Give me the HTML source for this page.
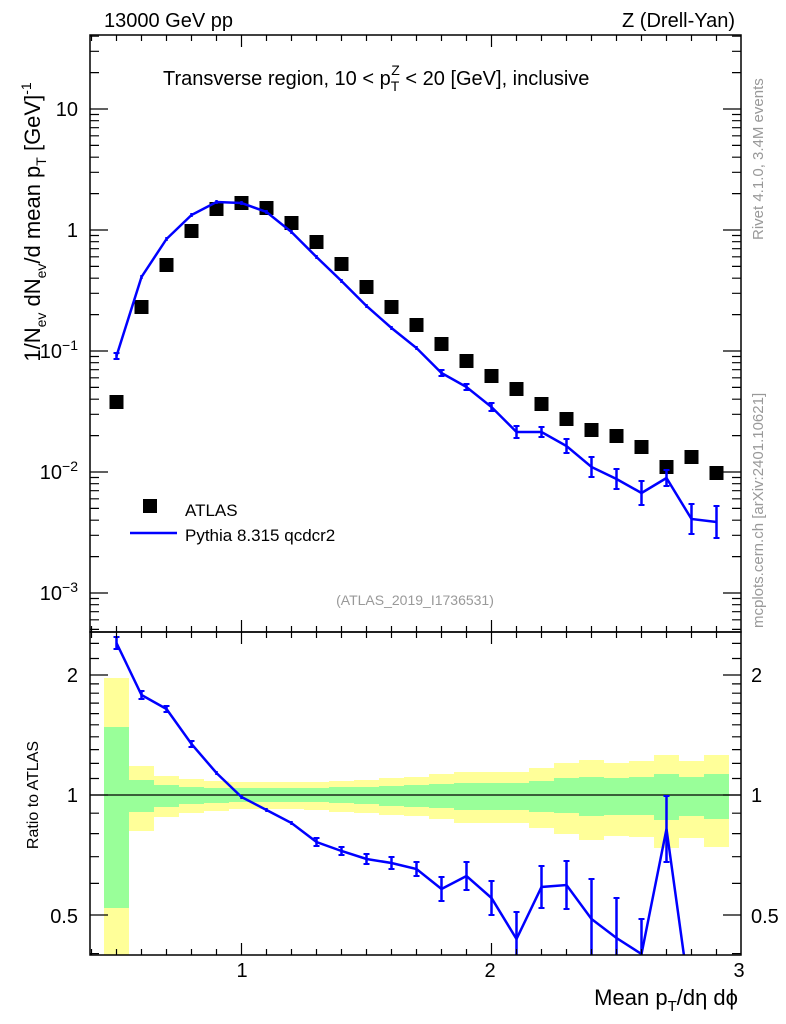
<!DOCTYPE html>
<html><head><meta charset="utf-8"><style>body{margin:0;background:#fff}svg{display:block;font-family:"Liberation Sans",sans-serif}</style></head><body>
<svg width="786" height="1024" xmlns="http://www.w3.org/2000/svg">
<defs><clipPath id="c"><rect x="90" y="632" width="651" height="323"/></clipPath></defs>
<g fill="#ffff99">
<rect x="104" y="678" width="25" height="277"/><rect x="129" y="766" width="25" height="65"/><rect x="154" y="776" width="25" height="41"/><rect x="179" y="779" width="25" height="34"/><rect x="204" y="781" width="25" height="30"/><rect x="229" y="782" width="25" height="27"/><rect x="254" y="782" width="25" height="27"/><rect x="279" y="782" width="25" height="27"/><rect x="304" y="782" width="25" height="28"/><rect x="329" y="781" width="25" height="31"/><rect x="354" y="780" width="25" height="33"/><rect x="379" y="778" width="25" height="37"/><rect x="404" y="777" width="25" height="39"/><rect x="429" y="774" width="25" height="45"/><rect x="454" y="772" width="25" height="51"/><rect x="479" y="772" width="25" height="51"/><rect x="504" y="772" width="25" height="51"/><rect x="529" y="768" width="25" height="60"/><rect x="554" y="763" width="25" height="71"/><rect x="579" y="760" width="25" height="80"/><rect x="604" y="763" width="25" height="73"/><rect x="629" y="761" width="25" height="76"/><rect x="654" y="755" width="25" height="93"/><rect x="679" y="761" width="25" height="77"/><rect x="704" y="755" width="25" height="92"/>
</g>
<g fill="#99ff99">
<rect x="104" y="727" width="25" height="181"/><rect x="129" y="780" width="25" height="32"/><rect x="154" y="785" width="25" height="22"/><rect x="179" y="787" width="25" height="17"/><rect x="204" y="788" width="25" height="15"/><rect x="229" y="788" width="25" height="14"/><rect x="254" y="788" width="25" height="14"/><rect x="279" y="788" width="25" height="14"/><rect x="304" y="788" width="25" height="14"/><rect x="329" y="787" width="25" height="16"/><rect x="354" y="787" width="25" height="17"/><rect x="379" y="786" width="25" height="20"/><rect x="404" y="785" width="25" height="22"/><rect x="429" y="784" width="25" height="24"/><rect x="454" y="783" width="25" height="27"/><rect x="479" y="783" width="25" height="27"/><rect x="504" y="783" width="25" height="27"/><rect x="529" y="781" width="25" height="31"/><rect x="554" y="778" width="25" height="35"/><rect x="579" y="777" width="25" height="39"/><rect x="604" y="778" width="25" height="37"/><rect x="629" y="777" width="25" height="38"/><rect x="654" y="774" width="25" height="46"/><rect x="679" y="777" width="25" height="39"/><rect x="704" y="774" width="25" height="45"/>
</g>
<line x1="90" y1="795" x2="741" y2="795" stroke="#000" stroke-width="1.2"/>
<g fill="#000">
<rect x="109.5" y="395" width="14" height="14"/><rect x="134.5" y="300" width="14" height="14"/><rect x="159.5" y="258" width="14" height="14"/><rect x="184.5" y="224" width="14" height="14"/><rect x="209.5" y="202" width="14" height="14"/><rect x="234.5" y="196" width="14" height="14"/><rect x="259.5" y="201" width="14" height="14"/><rect x="284.5" y="216" width="14" height="14"/><rect x="309.5" y="235" width="14" height="14"/><rect x="334.5" y="257" width="14" height="14"/><rect x="359.5" y="280" width="14" height="14"/><rect x="384.5" y="300" width="14" height="14"/><rect x="409.5" y="318" width="14" height="14"/><rect x="434.5" y="337" width="14" height="14"/><rect x="459.5" y="354" width="14" height="14"/><rect x="484.5" y="369" width="14" height="14"/><rect x="509.5" y="382" width="14" height="14"/><rect x="534.5" y="397" width="14" height="14"/><rect x="559.5" y="412" width="14" height="14"/><rect x="584.5" y="423" width="14" height="14"/><rect x="609.5" y="429" width="14" height="14"/><rect x="634.5" y="440" width="14" height="14"/><rect x="659.5" y="460" width="14" height="14"/><rect x="684.5" y="450" width="14" height="14"/><rect x="709.5" y="466" width="14" height="14"/>
</g>
<g fill="none" stroke="#00f" stroke-width="2.5">
<polyline points="116.5,356 141.5,277 166.5,239 191.5,215 216.5,202 241.5,203 266.5,212 291.5,232 316.5,257 341.5,281 366.5,306 391.5,328 416.5,348 441.5,373 466.5,387 491.5,407 516.5,432 541.5,432 566.5,446 591.5,467 616.5,479 641.5,493 666.5,478 691.5,519 716.5,522"/>
<path d="M116.5 353V359M141.5 275V279M166.5 237V241M191.5 213V217M216.5 200V204M241.5 201V205M266.5 210V214M291.5 230V234M316.5 255V259M341.5 279V283M366.5 304V308M391.5 326V330M416.5 346V350M441.5 370V376M466.5 384V390M491.5 403V411M516.5 426V438M541.5 427V437M566.5 439V453M591.5 457V477M616.5 469V489M641.5 481V505M666.5 470V486M691.5 504V534M716.5 506V538"/>
<path stroke-width="2" d="M113.5 353h6M113.5 359h6M438.5 370h6M438.5 376h6M463.5 384h6M463.5 390h6M488.5 403h6M488.5 411h6M513.5 426h6M513.5 438h6M538.5 427h6M538.5 437h6M563.5 439h6M563.5 453h6M588.5 457h6M588.5 477h6M613.5 469h6M613.5 489h6M638.5 481h6M638.5 505h6M663.5 470h6M663.5 486h6M688.5 504h6M688.5 534h6M713.5 506h6M713.5 538h6"/>
<g clip-path="url(#c)">
<polyline points="116.5,643 141.5,695 166.5,709 191.5,744 216.5,773 241.5,797 266.5,810 291.5,823 316.5,842 341.5,851 366.5,859 391.5,863 416.5,869 441.5,889 466.5,876 491.5,898 516.5,939 541.5,887 566.5,885 591.5,919 616.5,938 641.5,954 666.5,829 691.5,1010"/>
<path d="M116.5 637V649M141.5 691V699M166.5 706V712M191.5 741V747M216.5 771V775M241.5 795V799M266.5 808V812M291.5 821V825M316.5 838V846M341.5 847V855M366.5 854V864M391.5 857V869M416.5 862V876M441.5 877V901M466.5 862V890M491.5 881V915M516.5 912V966M541.5 866V908M566.5 861V909M591.5 879V959M616.5 898V978M641.5 919V989M666.5 796V862"/>
<path stroke-width="2" d="M113.5 637h6M113.5 649h6M138.5 691h6M138.5 699h6M163.5 706h6M163.5 712h6M188.5 741h6M188.5 747h6M313.5 838h6M313.5 846h6M338.5 847h6M338.5 855h6M363.5 854h6M363.5 864h6M388.5 857h6M388.5 869h6M413.5 862h6M413.5 876h6M438.5 877h6M438.5 901h6M463.5 862h6M463.5 890h6M488.5 881h6M488.5 915h6M513.5 912h6M538.5 866h6M538.5 908h6M563.5 861h6M563.5 909h6M588.5 879h6M613.5 898h6M638.5 919h6M663.5 796h6M663.5 862h6"/>
</g>
</g>
<rect x="90" y="35" width="651" height="597" fill="none" stroke="#000" stroke-width="1.5"/>
<rect x="90" y="632" width="651" height="323" fill="none" stroke="#000" stroke-width="1.5"/>
<g stroke="#000" stroke-width="1.2" fill="none">
<path d="M91.5 35v6M116.5 35v6M141.5 35v6M166.5 35v6M191.5 35v6M216.5 35v6M241.5 35v12M266.5 35v6M291.5 35v6M316.5 35v6M341.5 35v6M366.5 35v6M391.5 35v6M416.5 35v6M441.5 35v6M466.5 35v6M491.5 35v12M516.5 35v6M541.5 35v6M566.5 35v6M591.5 35v6M616.5 35v6M641.5 35v6M666.5 35v6M691.5 35v6M716.5 35v6"/>
<path d="M91.5 632v-6M116.5 632v-6M141.5 632v-6M166.5 632v-6M191.5 632v-6M216.5 632v-6M241.5 632v-12M266.5 632v-6M291.5 632v-6M316.5 632v-6M341.5 632v-6M366.5 632v-6M391.5 632v-6M416.5 632v-6M441.5 632v-6M466.5 632v-6M491.5 632v-12M516.5 632v-6M541.5 632v-6M566.5 632v-6M591.5 632v-6M616.5 632v-6M641.5 632v-6M666.5 632v-6M691.5 632v-6M716.5 632v-6"/>
<path d="M91.5 632v6M116.5 632v6M141.5 632v6M166.5 632v6M191.5 632v6M216.5 632v6M241.5 632v12M266.5 632v6M291.5 632v6M316.5 632v6M341.5 632v6M366.5 632v6M391.5 632v6M416.5 632v6M441.5 632v6M466.5 632v6M491.5 632v12M516.5 632v6M541.5 632v6M566.5 632v6M591.5 632v6M616.5 632v6M641.5 632v6M666.5 632v6M691.5 632v6M716.5 632v6"/>
<path d="M91.5 955v-6M116.5 955v-6M141.5 955v-6M166.5 955v-6M191.5 955v-6M216.5 955v-6M241.5 955v-12M266.5 955v-6M291.5 955v-6M316.5 955v-6M341.5 955v-6M366.5 955v-6M391.5 955v-6M416.5 955v-6M441.5 955v-6M466.5 955v-6M491.5 955v-12M516.5 955v-6M541.5 955v-6M566.5 955v-6M591.5 955v-6M616.5 955v-6M641.5 955v-6M666.5 955v-6M691.5 955v-6M716.5 955v-6"/>
<path d="M90 109h18M90 230h18M90 351h18M90 472h18M90 593h18M90 72.6h9M90 51.3h9M90 36.2h9M90 193.6h9M90 172.3h9M90 157.2h9M90 145.4h9M90 135.8h9M90 127.7h9M90 120.7h9M90 114.5h9M90 314.6h9M90 293.3h9M90 278.2h9M90 266.4h9M90 256.8h9M90 248.7h9M90 241.7h9M90 235.5h9M90 435.6h9M90 414.3h9M90 399.2h9M90 387.4h9M90 377.8h9M90 369.7h9M90 362.7h9M90 356.5h9M90 556.6h9M90 535.3h9M90 520.2h9M90 508.4h9M90 498.8h9M90 490.7h9M90 483.7h9M90 477.5h9M90 629.4h9M90 619.8h9M90 611.7h9M90 604.7h9M90 598.5h9"/>
<path d="M741 109h-18M741 230h-18M741 351h-18M741 472h-18M741 593h-18M741 72.6h-9M741 51.3h-9M741 36.2h-9M741 193.6h-9M741 172.3h-9M741 157.2h-9M741 145.4h-9M741 135.8h-9M741 127.7h-9M741 120.7h-9M741 114.5h-9M741 314.6h-9M741 293.3h-9M741 278.2h-9M741 266.4h-9M741 256.8h-9M741 248.7h-9M741 241.7h-9M741 235.5h-9M741 435.6h-9M741 414.3h-9M741 399.2h-9M741 387.4h-9M741 377.8h-9M741 369.7h-9M741 362.7h-9M741 356.5h-9M741 556.6h-9M741 535.3h-9M741 520.2h-9M741 508.4h-9M741 498.8h-9M741 490.7h-9M741 483.7h-9M741 477.5h-9M741 629.4h-9M741 619.8h-9M741 611.7h-9M741 604.7h-9M741 598.5h-9"/>
<path d="M90 915h18M90 795h18M90 675h18M90 953.6h9M90 883.4h9M90 856.7h9M90 833.6h9M90 813.2h9M90 778.5h9M90 763.4h9M90 749.6h9M90 736.8h9M90 724.8h9M90 713.6h9M90 703.1h9M90 693.2h9M90 683.9h9M90 658.5h9M90 643.4h9"/>
<path d="M741 915h-18M741 795h-18M741 675h-18M741 953.6h-9M741 883.4h-9M741 856.7h-9M741 833.6h-9M741 813.2h-9M741 778.5h-9M741 763.4h-9M741 749.6h-9M741 736.8h-9M741 724.8h-9M741 713.6h-9M741 703.1h-9M741 693.2h-9M741 683.9h-9M741 658.5h-9M741 643.4h-9"/>
</g>
<g font-size="20" fill="#000">
<text x="104" y="27">13000 GeV pp</text>
<text x="735" y="27" text-anchor="end">Z (Drell-Yan)</text>
<text x="163" y="85">Transverse region, 10 &lt; p<tspan font-size="14" dy="6">T</tspan><tspan font-size="14" dx="-8" dy="-16">Z</tspan><tspan dy="10"> &lt; 20 [GeV], inclusive</tspan></text>
<text x="78" y="116" text-anchor="end">10</text>
<text x="78" y="237" text-anchor="end">1</text>
<text x="78" y="358" text-anchor="end">10<tspan font-size="14" dy="-8">−1</tspan></text>
<text x="78" y="479" text-anchor="end">10<tspan font-size="14" dy="-8">−2</tspan></text>
<text x="78" y="600" text-anchor="end">10<tspan font-size="14" dy="-8">−3</tspan></text>
<text x="78" y="682" text-anchor="end">2</text>
<text x="78" y="802" text-anchor="end">1</text>
<text x="78" y="923" text-anchor="end">0.5</text>
<text x="751" y="682">2</text>
<text x="751" y="802">1</text>
<text x="751" y="923">0.5</text>
<text x="242" y="977" text-anchor="middle">1</text>
<text x="490" y="977" text-anchor="middle">2</text>
<text x="739" y="977" text-anchor="middle">3</text>
<text x="738" y="1005" text-anchor="end" font-size="22">Mean p<tspan font-size="15" dy="6">T</tspan><tspan dy="-6">/dη dϕ</tspan></text>
<text transform="translate(40,222) rotate(-90)" text-anchor="middle" font-size="22">1/N<tspan font-size="14" dy="6">ev</tspan><tspan dy="-6"> dN</tspan><tspan font-size="14" dy="6">ev</tspan><tspan dy="-6">/d mean p</tspan><tspan font-size="14" dy="6">T</tspan><tspan dy="-6"> [GeV]</tspan><tspan font-size="14" dy="-9">-1</tspan></text>
<text transform="translate(38,795) rotate(-90)" text-anchor="middle" font-size="16">Ratio to ATLAS</text>
<text x="185" y="516" font-size="17">ATLAS</text>
<text x="185" y="541" font-size="17">Pythia 8.315 qcdcr2</text>
<text x="415" y="605" font-size="14" fill="#999" text-anchor="middle">(ATLAS_2019_I1736531)</text>
<text transform="translate(763,240) rotate(-90)" font-size="15" fill="#999">Rivet 4.1.0,  3.4M events</text>
<text transform="translate(763,628) rotate(-90)" font-size="15" fill="#999">mcplots.cern.ch [arXiv:2401.10621]</text>
</g>
<rect x="143" y="499" width="14" height="14" fill="#000"/>
<line x1="130" y1="533" x2="177" y2="533" stroke="#00f" stroke-width="2.5"/>
</svg>
</body></html>
